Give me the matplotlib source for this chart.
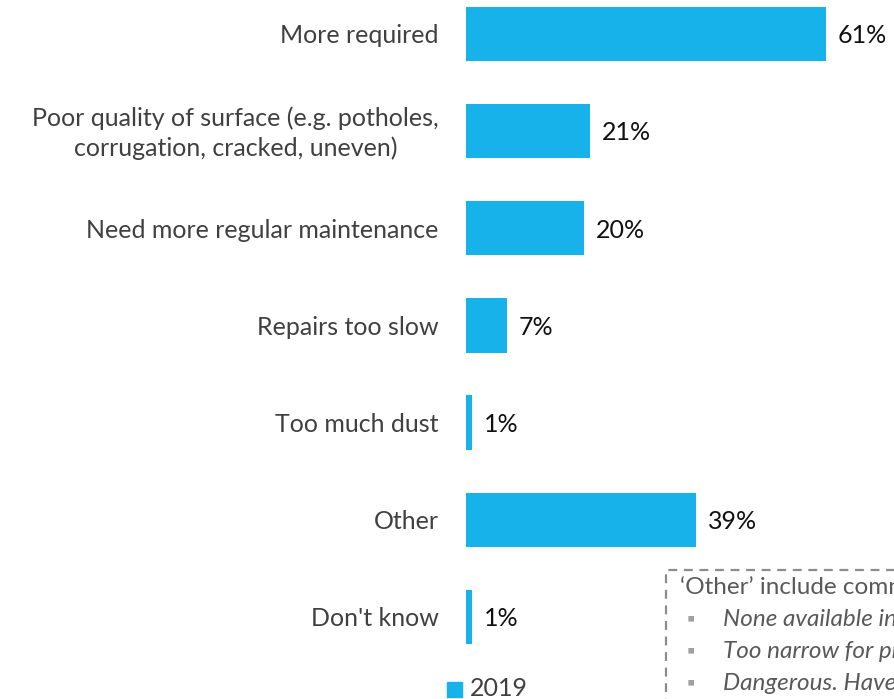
import matplotlib.pyplot as plt
from matplotlib.patches import Rectangle

categories = ['More required',
              'Poor quality of surface (e.g. potholes,\ncorrugation, cracked, uneven)',
              'Need more regular maintenance',
              'Repairs too slow',
              'Too much dust',
              'Other',
              "Don't know"]
values = [61, 21, 20, 7, 1, 39, 1]
series_name = '2019'
note_title = '\u2018Other\u2019 include comments such as:'
note_items = ['None available in my area',
              'Too narrow for prams and wheelchairs',
              'Dangerous. Have to walk on the road']

bar_color = '#17B2E9'
plt.rcParams['font.family'] = ['Lato', 'DejaVu Sans']

fig = plt.figure(figsize=(8.94, 6.99), dpi=100)
# px per percent ~5.9, row pitch ~97px
ax = fig.add_axes([466 / 894, 0.0478, 70 * 5.9 / 894, 7 * 97.2 / 699])

y = list(range(len(categories)))
ax.barh(y, values, height=0.56, color=bar_color)
ax.set_xlim(0, 70)
ax.set_ylim(len(categories) - 0.5, -0.5)
ax.axis('off')

for yi, v, c in zip(y, values, categories):
    ax.text(v + 2.0, yi + 0.02, f'{v}%', va='center', ha='left', fontsize=18, color='#111111')
    ax.text(-4.6, yi + 0.02, c, va='center', ha='right', multialignment='center',
            fontsize=18, color='#404040', linespacing=1.35)

# legend at the bottom (cropped)
fig.patches.append(Rectangle((447 / 894, 1 - 697 / 699), 15 / 894, 15 / 699,
                             transform=fig.transFigure, color=bar_color))
fig.text(470 / 894, 1 - 689 / 699, series_name, va='center', ha='left',
         fontsize=18, color='#404040')

# dashed note box (cropped on the right/bottom)
fig.patches.append(Rectangle((666 / 894, -0.1), 0.6, (1 - 570 / 699) + 0.1,
                             transform=fig.transFigure, fill=False,
                             edgecolor='#8c8c8c', linestyle=(0, (4, 3)), lw=1.6))
fig.text(680 / 894, 1 - 587 / 699, note_title, va='center', ha='left',
         fontsize=17.5, color='#595959')
for i, item in enumerate(note_items):
    yy = 1 - (619 + 32 * i) / 699
    fig.text(687 / 894, yy, '\u25aa', va='center', ha='left', fontsize=15, color='#a0a0a0')
    fig.text(723 / 894, yy, item, va='center', ha='left', fontsize=17.5,
             color='#595959', style='italic')

fig.savefig('out.png', dpi=100)
